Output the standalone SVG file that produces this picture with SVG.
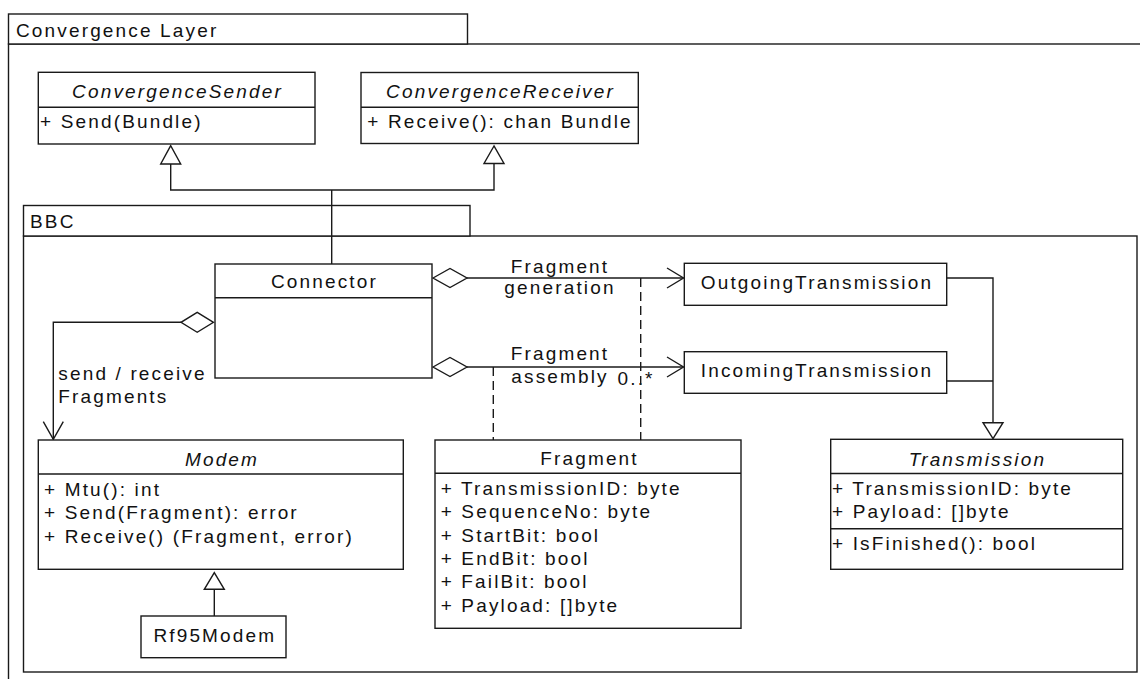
<svg xmlns="http://www.w3.org/2000/svg" width="1140" height="679" viewBox="0 0 1140 679">
<style>
  .box { fill: #ffffff; stroke: #1a1a1a; stroke-width: 1.4; }
  .pkg { fill: #ffffff; stroke: #1a1a1a; stroke-width: 1.4; }
  .ln { fill: none; stroke: #1a1a1a; stroke-width: 1.4; }
  .dash { fill: none; stroke: #1a1a1a; stroke-width: 1.4; stroke-dasharray: 9 5; }
  .tri { fill: #ffffff; stroke: #1a1a1a; stroke-width: 1.4; }
  text { font-family: "Liberation Sans", Arial, sans-serif; font-size: 19px; letter-spacing: 2.15px; fill: #111111; }
  .c { text-anchor: middle; }
  .i { font-style: italic; }
</style>

<g id="pkg-convergence-layer">
  <rect class="pkg" x="8.5" y="44" width="1200" height="700"/>
  <rect class="pkg" x="8.5" y="14" width="459" height="30"/>
  <text x="16" y="36.5">Convergence Layer</text>
</g>

<g id="pkg-bbc">
  <rect class="pkg" x="23.5" y="236" width="1113.5" height="436"/>
  <rect class="pkg" x="23.5" y="205.5" width="446.5" height="30.5"/>
  <text x="30" y="228">BBC</text>
</g>

<g id="connectors">
  <!-- realization to ConvergenceSender / ConvergenceReceiver -->
  <polyline class="ln" points="170.7,164 170.7,190 494,190 494,163.5"/>
  <line class="ln" x1="331.7" y1="190" x2="331.7" y2="264"/>
  <polygon class="tri" points="170.7,145.7 160.7,164 180.7,164"/>
  <polygon class="tri" points="494,146 484,163.5 504,163.5"/>

  <!-- Connector -> OutgoingTransmission -->
  <line class="ln" x1="467" y1="278" x2="683.5" y2="278"/>
  <polygon class="tri" points="433,278 450,268.5 467,278 450,287.5"/>
  <polyline class="ln" points="667,268 683.5,278 667,288"/>
  <text class="c" x="560" y="272.5">Fragment</text>
  <text class="c" x="560" y="294">generation</text>

  <!-- Connector -> IncomingTransmission -->
  <line class="ln" x1="467" y1="367" x2="683.5" y2="367"/>
  <polygon class="tri" points="433,367 450,357.5 467,367 450,376.5"/>
  <polyline class="ln" points="667,357 683.5,367 667,377"/>
  <text class="c" x="560" y="360">Fragment</text>
  <text class="c" x="560" y="382.5">assembly</text>
  <text x="617.5" y="385">0..*</text>

  <!-- dashed association class links to Fragment -->
  <line class="dash" x1="640.7" y1="278" x2="640.7" y2="440"/>
  <line class="dash" x1="493.3" y1="367" x2="493.3" y2="440"/>

  <!-- Outgoing/Incoming -> Transmission -->
  <polyline class="ln" points="946.7,278 993,278 993,422.7"/>
  <line class="ln" x1="946.7" y1="381" x2="993" y2="381"/>
  <polygon class="tri" points="993,438.7 983,422.7 1003,422.7"/>

  <!-- Connector -> Modem -->
  <polyline class="ln" points="181,322.3 53.3,322.3 53.3,439.3"/>
  <polygon class="tri" points="213.5,322.3 197.2,312.3 181,322.3 197.2,332.3"/>
  <polyline class="ln" points="43.3,421.7 53.3,439.3 63.3,421.7"/>
  <text x="58.3" y="380">send / receive</text>
  <text x="58.3" y="403.3">Fragments</text>

  <!-- Rf95Modem -> Modem -->
  <line class="ln" x1="214.3" y1="589.3" x2="214.3" y2="616"/>
  <polygon class="tri" points="214.3,572.7 204.3,589.3 224.3,589.3"/>
</g>

<g id="node-convergence-sender">
  <rect class="box" x="38.3" y="72.3" width="276.7" height="71.7"/>
  <line class="ln" x1="38.3" y1="107.3" x2="315" y2="107.3"/>
  <text class="c i" x="177.5" y="98.3">ConvergenceSender</text>
  <text x="40" y="128.3">+ Send(Bundle)</text>
</g>

<g id="node-convergence-receiver">
  <rect class="box" x="361" y="72.5" width="277.3" height="71"/>
  <line class="ln" x1="361" y1="107.3" x2="638.3" y2="107.3"/>
  <text class="c i" x="500.5" y="98">ConvergenceReceiver</text>
  <text x="367.3" y="128.3">+ Receive(): chan Bundle</text>
</g>

<g id="node-connector">
  <rect class="box" x="215" y="264" width="217" height="114"/>
  <line class="ln" x1="215" y1="297.7" x2="432" y2="297.7"/>
  <text class="c" x="324.5" y="288.3">Connector</text>
</g>

<g id="node-outgoing-transmission">
  <rect class="box" x="684.3" y="263.3" width="262.4" height="42"/>
  <text class="c" x="817" y="289.3">OutgoingTransmission</text>
</g>

<g id="node-incoming-transmission">
  <rect class="box" x="684.3" y="351.7" width="262.4" height="41.6"/>
  <text class="c" x="817" y="376.7">IncomingTransmission</text>
</g>

<g id="node-modem">
  <rect class="box" x="38.3" y="440" width="365" height="129.3"/>
  <line class="ln" x1="38.3" y1="474" x2="403.3" y2="474"/>
  <text class="c i" x="222" y="465.7">Modem</text>
  <text x="44" y="495.7">+ Mtu(): int</text>
  <text x="44" y="519.3">+ Send(Fragment): error</text>
  <text x="44" y="543">+ Receive() (Fragment, error)</text>
</g>

<g id="node-fragment">
  <rect class="box" x="435" y="440" width="306" height="188.3"/>
  <line class="ln" x1="435" y1="473.3" x2="741" y2="473.3"/>
  <text class="c" x="589.5" y="465">Fragment</text>
  <text x="440.7" y="495">+ TransmissionID: byte</text>
  <text x="440.7" y="518.3">+ SequenceNo: byte</text>
  <text x="440.7" y="541.7">+ StartBit: bool</text>
  <text x="440.7" y="565">+ EndBit: bool</text>
  <text x="440.7" y="588.3">+ FailBit: bool</text>
  <text x="440.7" y="611.7">+ Payload: []byte</text>
</g>

<g id="node-transmission">
  <rect class="box" x="830.7" y="439.3" width="292" height="130"/>
  <line class="ln" x1="830.7" y1="473.5" x2="1122.7" y2="473.5"/>
  <line class="ln" x1="830.7" y1="528.7" x2="1122.7" y2="528.7"/>
  <text class="c i" x="977.5" y="465.7">Transmission</text>
  <text x="832" y="495">+ TransmissionID: byte</text>
  <text x="832" y="518.3">+ Payload: []byte</text>
  <text x="832" y="550">+ IsFinished(): bool</text>
</g>

<g id="node-rf95modem">
  <rect class="box" x="141" y="616" width="145" height="41.7"/>
  <text class="c" x="214.8" y="641.7">Rf95Modem</text>
</g>
</svg>
